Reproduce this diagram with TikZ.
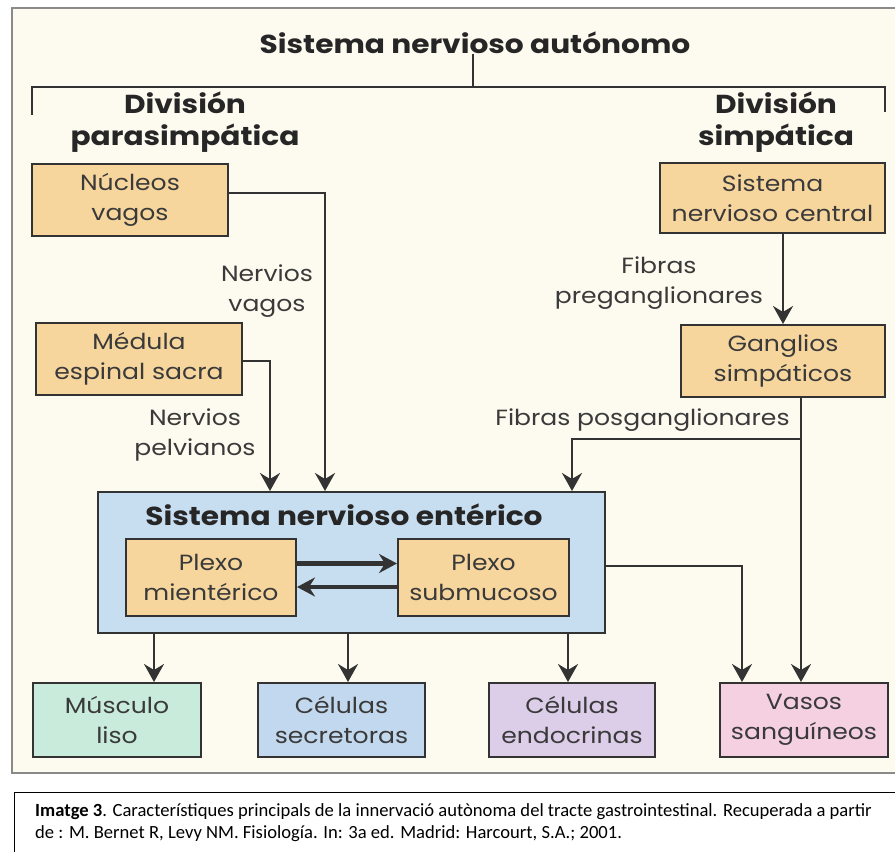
\documentclass[tikz,border=0pt]{standalone}
\usepackage{fontspec}
\setmainfont{Poppins}[FakeStretch=1.14]
\newfontfamily\capfont{Carlito}
\usetikzlibrary{arrows.meta}
\definecolor{bg}{HTML}{FDFBEF}
\definecolor{framec}{HTML}{8A8A8A}
\definecolor{lc}{HTML}{333333}
\definecolor{txt}{HTML}{3A3A3A}
\definecolor{btxt}{HTML}{262626}
\definecolor{orangef}{HTML}{F7D69E}
\definecolor{bluef}{HTML}{C7DDF0}
\definecolor{greenf}{HTML}{C9EBDC}
\definecolor{secf}{HTML}{C2D8EE}
\definecolor{lavf}{HTML}{DCCDE9}
\definecolor{pinkf}{HTML}{F5D0E1}
\tikzset{
  box/.style={draw=lc, line width=2pt, inner sep=0pt, align=center,
    font=\fontsize{22}{29.5}\selectfont, text=txt},
  lab/.style={inner sep=0pt, align=center, font=\fontsize{22}{29.5}\selectfont, text=txt},
  blab/.style={inner sep=0pt, align=center, font=\bfseries\fontsize{26}{32}\selectfont, text=btxt},
  conn/.style={draw=lc, line width=2.4pt, -{Stealth[length=18pt,width=20pt,inset=6pt]}},
  thickarr/.style={draw=lc, line width=4.5pt, -{Stealth[length=18pt,width=19pt,inset=6pt]}},
  plain/.style={draw=lc, line width=2pt}
}
\begin{document}
\begin{tikzpicture}[x=1pt,y=-1pt]
\useasboundingbox (0,0) rectangle (895,852);
\fill[white] (0,0) rectangle (895,852);
% outer frame
\fill[bg] (12,8) rectangle (897,773);
\draw[framec, line width=2.5pt] (897,8) -- (12,8) -- (12,773) -- (897,773);

% title and bracket
\node[blab] (title) at (475,43) {Sistema nervioso autónomo};
\coordinate (tb) at (473,87);
\draw[plain] (title.south -| tb) -- (tb);
\draw[plain] (32,115) -- (32,87) -- (885,87) -- (885,112);

\node[blab] (divp) at (185,122) {División\\parasimpática};
\node[blab] (divs) at (776,122) {División\\simpática};

% boxes
\node[box, fill=orangef, minimum width=196pt, minimum height=72pt] (nuc) at (130,200) {Núcleos\\vagos};
\node[box, fill=orangef, minimum width=206pt, minimum height=72pt] (med) at (139,359) {Médula\\espinal sacra};
\node[box, fill=orangef, minimum width=225pt, minimum height=70pt] (snc) at (772.5,198) {Sistema\\nervioso central};
\node[box, fill=orangef, minimum width=204pt, minimum height=72pt] (gang) at (783,361) {Ganglios\\simpáticos};

\node[box, fill=bluef, minimum width=507pt, minimum height=141pt] (ent) at (351.5,562.5) {};
\node[blab] (entt) at (344,515) {Sistema nervioso entérico};
\node[box, fill=orangef, minimum width=170pt, minimum height=77pt] (mien) at (211,577.5) {Plexo\\mientérico};
\node[box, fill=orangef, minimum width=171pt, minimum height=77pt] (subm) at (483.5,577.5) {Plexo\\submucoso};

\node[box, fill=greenf, minimum width=168pt, minimum height=74pt] (mus) at (117,720) {Músculo\\liso};
\node[box, fill=secf, minimum width=167pt, minimum height=74pt] (sec) at (341.5,720) {Células\\secretoras};
\node[box, fill=lavf, minimum width=166pt, minimum height=74pt] (endo) at (572,720) {Células\\endocrinas};
\node[box, fill=pinkf, minimum width=168pt, minimum height=74pt] (vas) at (804,720) {Vasos\\sanguíneos};

% labels
\node[lab] (nvag) at (267,291) {Nervios\\vagos};
\node[lab] (npel) at (195,435) {Nervios\\pelvianos};
\node[lab] (fpre) at (659,283) {Fibras\\preganglionares};
\node[lab] (fpos) at (642.5,420) {Fibras posganglionares};

% connectors
\draw[conn] ([yshift=7pt]nuc.east) -| ([xshift=-26.5pt]ent.north);
\draw[conn] ([yshift=-2pt]med.east) -| ([xshift=-81.5pt]ent.north);
\draw[conn] (snc.south -| gang.north) -- (gang.north);
\coordinate (gs) at ([xshift=18pt]gang.south);
\draw[conn] (gs) -- (gs |- vas.north);
\coordinate (br) at ([yshift=-41pt]gs);
\draw[conn] (br) -| ([xshift=220.5pt]ent.north);
\draw[conn] ([yshift=-3.5pt]ent.east) -| ([xshift=-62pt]vas.north);
\draw[conn] ([xshift=-197.5pt]ent.south) -- ([xshift=-197.5pt]ent.south |- mus.north);
\draw[conn] ([xshift=-3.5pt]ent.south) -- ([xshift=-3.5pt]ent.south |- sec.north);
\draw[conn] ([xshift=216.5pt]ent.south) -- ([xshift=216.5pt]ent.south |- endo.north);
\draw[thickarr] ([yshift=14pt]mien.east) -- ([yshift=14pt]subm.west);
\draw[thickarr] ([yshift=-9.5pt]subm.west) -- ([yshift=-9.5pt]mien.east);

% caption
\draw[black, line width=0.8pt] (14,853) -- (14,792) -- (897,792);
\node[anchor=west, align=left, inner sep=0pt, text=black, font=\capfont\fontsize{18.6}{22}\selectfont] (cap) at (35,823)
 {\textbf{Imatge 3}. Característiques principals de la innervació autònoma del tracte gastrointestinal. Recuperada a partir\\de : M. Bernet R, Levy NM. Fisiología. In: 3a ed. Madrid: Harcourt, S.A.; 2001.};
\end{tikzpicture}
\end{document}
